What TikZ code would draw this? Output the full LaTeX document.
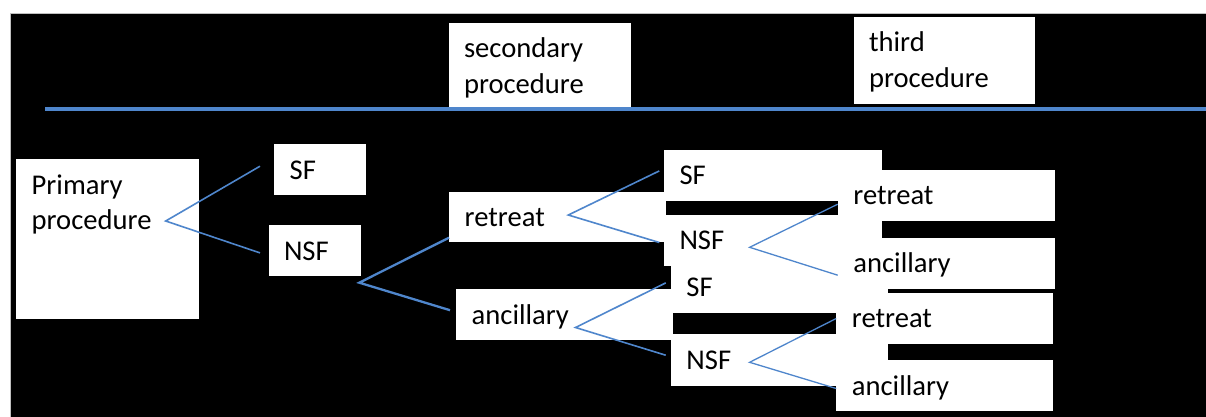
\documentclass[tikz,border=0pt]{standalone}
\usepackage{fontspec}
\setmainfont{Carlito}
\usepackage{xcolor}

\definecolor{branchblue}{RGB}{79,134,204}

\begin{document}
\begin{tikzpicture}[x=1pt, y=-1pt,
      box/.style={rectangle, fill=white, anchor=north west,
                  inner xsep=15.5pt, inner ysep=0pt, align=left, text height=35pt,
                  font=\fontsize{28.6pt}{35.5pt}\selectfont},
      branch/.style={draw=branchblue, line width=1.6pt},
      heading rule/.style={draw=branchblue, line width=3.3pt}]
      \useasboundingbox (0,0) rectangle (1206,416);
      \fill[white] (0,0) rectangle (1206,416);
      \filldraw[fill=black, draw=black!25, line width=1pt] (10.5,13.5) rectangle (1212,422);

      % headings over the columns
      \node[box, text width=151.4pt, text depth=49.6pt] (secondary) at (448.3,22.7) {secondary\\procedure};
      \node[box, text width=150.7pt, text depth=51.6pt] (third) at (853.3,16.7) {third\\procedure};
      \draw[heading rule] (45,109) -- (1206,109);

      % first split
      \node[box, text width=151.3pt, text depth=124.3pt] (primary) at (16,159) {Primary\\procedure};
      \node[box, text width=60.7pt, text depth=16pt] (sf1) at (274,144) {SF};
      \node[box, text width=61.4pt, text depth=16pt] (nsf1) at (268.3,225) {NSF};

      % second split
      \node[box, text width=185.7pt, text depth=15pt] (retreat2) at (449,191.7) {retreat};
      \node[box, text width=185.7pt, text depth=16pt] (ancillary2) at (456,289) {ancillary};

      % third split
      \node[box, text width=187pt, text depth=16.7pt] (sf3a) at (663.8,149.3) {SF};
      \node[box, text width=187pt, text depth=16.7pt] (nsf3a) at (663.8,214.3) {NSF};
      \node[box, text width=186.3pt, text depth=16.7pt] (sf3b) at (670.7,261) {SF};
      \node[box, text width=186.3pt, text depth=16.7pt] (nsf3b) at (670.7,334) {NSF};

      % last column
      \node[box, text width=186.3pt, text depth=16.4pt] (retreat4a) at (837.7,169.3) {retreat};
      \node[box, text width=186.3pt, text depth=16pt] (ancillary4a) at (837.7,237.3) {ancillary};
      \node[box, text width=185.8pt, text depth=16pt] (retreat4b) at (836.2,292.3) {retreat};
      \node[box, text width=185.8pt, text depth=16pt] (ancillary4b) at (836.2,360) {ancillary};

      % fork points of the branches
      \coordinate (primary-fork) at (165.7,221);
      \coordinate (nsf1-fork) at (359.3,282.7);
      \coordinate (retreat2-fork) at (568.3,215);
      \coordinate (ancillary2-fork) at (575.5,327.5);
      \coordinate (nsf3a-fork) at (749.6,247.3);
      \coordinate (nsf3b-fork) at (749.6,362.3);

      \draw[branch] ([xshift=-14pt,yshift=3.5pt]sf1.west) -- (primary-fork)
                    -- ([xshift=-8.3pt,yshift=-2.2pt]nsf1.west);
      \draw[branch, line width=2.3pt] ([yshift=4.4pt]retreat2.south west) -- (nsf1-fork)
                    -- ([xshift=-6pt,yshift=4.5pt]ancillary2.west);
      \draw[branch] ([xshift=-4.5pt,yshift=4.45pt]sf3a.west) -- (retreat2-fork)
                    -- ([xshift=-4.5pt,yshift=-2.15pt]nsf3a.west);
      \draw[branch] ([xshift=-5pt,yshift=4.15pt]sf3b.west) -- (ancillary2-fork)
                    -- ([xshift=-5pt,yshift=4.85pt]nsf3b.west);
      \draw[branch, line width=1.3pt] ([yshift=-9pt]retreat4a.west) -- (nsf3a-fork)
                    -- ([yshift=-12.2pt]ancillary4a.west);
      \draw[branch, line width=1.3pt] ([yshift=-0.5pt]retreat4b.west) -- (nsf3b-fork)
                    -- ([yshift=-2.8pt]ancillary4b.west);
\end{tikzpicture}
\end{document}
